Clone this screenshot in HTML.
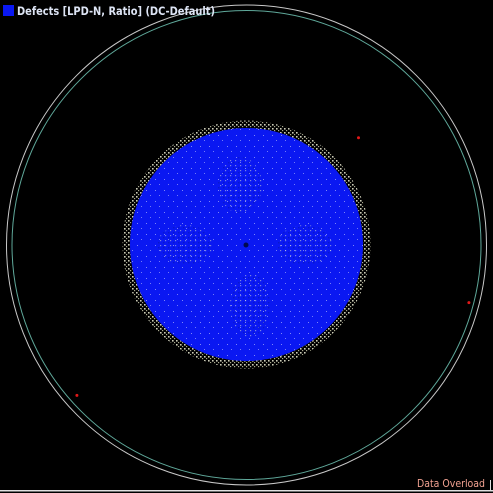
<!DOCTYPE html>
<html><head><meta charset="utf-8">
<style>
html,body{margin:0;padding:0;background:#000;width:493px;height:493px;overflow:hidden}
svg{display:block}
text{font-family:"DejaVu Sans","Liberation Sans",sans-serif}
</style></head>
<body>
<svg id="map" width="493" height="493" viewBox="0 0 493 493">
<defs>
<pattern id="ringDots" width="4" height="4" patternUnits="userSpaceOnUse">
<rect x="0" y="0" width="1.6" height="1.6" fill="#f0f0d8"/>
<rect x="2" y="2" width="1.2" height="1.2" fill="#c8c8a8"/>
</pattern>
<pattern id="innerDots" width="9" height="11" patternUnits="userSpaceOnUse">
<rect x="2" y="3" width="1" height="1" fill="#dde0ff"/>
<rect x="6" y="8" width="1" height="1" fill="#c8ccff"/>
</pattern>
<pattern id="clusterDots" width="5" height="5" patternUnits="userSpaceOnUse">
<rect x="0" y="0" width="1.2" height="1.2" fill="#e8ecd0"/>
<rect x="3" y="2" width="1.4" height="1.4" fill="#0818a0"/>
</pattern>
<mask id="annulus">
<circle cx="246.5" cy="244.5" r="124" fill="#fff"/>
<circle cx="246.5" cy="244.5" r="116.5" fill="#000"/>
</mask>
<clipPath id="diskClip"><circle cx="246.5" cy="244.5" r="116.5"/></clipPath>
</defs>

<circle cx="246.5" cy="245" r="240" fill="none" stroke="#c8c8c8" stroke-width="1"/>
<circle cx="246.5" cy="245" r="234.5" fill="none" stroke="#5fa89a" stroke-width="1"/>

<rect x="120" y="118" width="255" height="255" fill="url(#ringDots)" mask="url(#annulus)" opacity="0.85"/>
<circle cx="246.5" cy="244.5" r="116.5" fill="#0a18f2"/>
<g clip-path="url(#diskClip)">
<rect x="128" y="126" width="240" height="240" fill="url(#innerDots)" opacity="0.55"/>
<g opacity="0.5">
<ellipse cx="240" cy="185" rx="22" ry="28" fill="url(#clusterDots)"/>
<ellipse cx="250" cy="305" rx="20" ry="32" fill="url(#clusterDots)"/>
<ellipse cx="185" cy="245" rx="28" ry="20" fill="url(#clusterDots)"/>
<ellipse cx="305" cy="245" rx="28" ry="20" fill="url(#clusterDots)"/>
</g>
<circle cx="246" cy="245" r="2.5" fill="#000a50"/>
</g>

<g id="defects"></g>

<rect x="0" y="490" width="493" height="1.5" fill="#e0e0e0"/>
<rect x="490" y="480" width="1" height="11" fill="#e0e0e0"/>

<g>
<rect x="3" y="5" width="11" height="11" fill="#0a18f2"/>
<text x="17" y="15" font-size="11.5" font-weight="bold" fill="#dde4f4" textLength="198" lengthAdjust="spacingAndGlyphs">Defects [LPD-N, Ratio] (DC-Default)</text>
</g>
<text x="417" y="487" font-size="11" fill="#f0a090" textLength="68" lengthAdjust="spacingAndGlyphs">Data Overload</text>
</svg>
<script>
// isolated defect coordinates (wafer mm, center = 0, radius = 150)
const defectX = [70, 139, -106];
const defectY = [67, -36, -94];
const defectSize = [1.5, 1.5, 1.5];

const cx = 246.5, cy = 245, waferR = 150, pxR = 240;
function xScale(v){ return cx + v / waferR * pxR; }
function yScale(v){ return cy - v / waferR * pxR; }

const g = document.getElementById('defects');
for (let i = 0; i < defectX.length; i++) {
  const c = document.createElementNS('http://www.w3.org/2000/svg', 'circle');
  c.setAttribute('cx', xScale(defectX[i]));
  c.setAttribute('cy', yScale(defectY[i]));
  c.setAttribute('r', defectSize[i]);
  c.setAttribute('fill', '#e01818');
  
  
  g.appendChild(c);
}
</script>
</body></html>
